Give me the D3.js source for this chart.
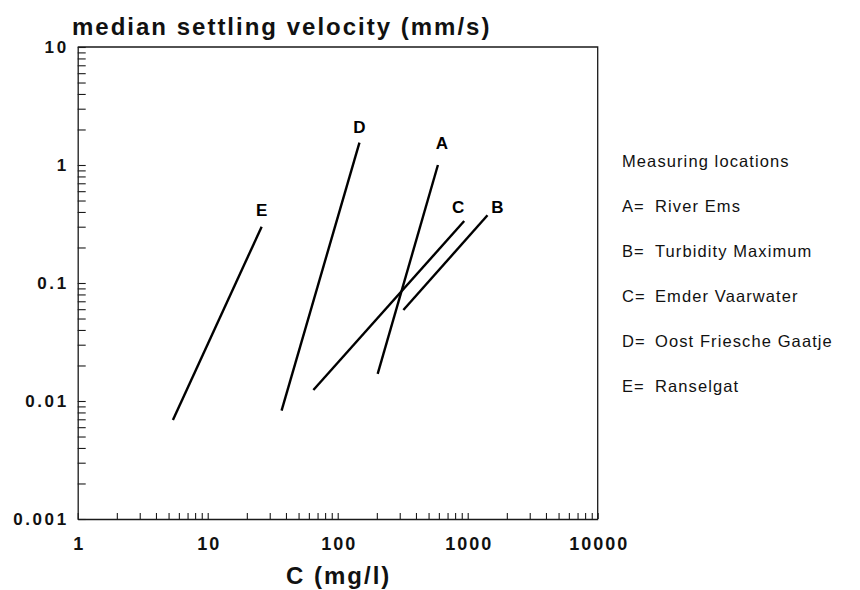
<!DOCTYPE html>
<html>
<head>
<meta charset="utf-8">
<script src="https://cdn.jsdelivr.net/npm/d3@7/dist/d3.min.js"></script>
<style>
  html, body { margin: 0; padding: 0; background: #fff; }
  svg { display: block; font-family: "Liberation Sans", Arial, Helvetica, sans-serif; }
</style>
</head>
<body>
<svg id="chart" width="860" height="590"></svg>
<script>
// Measuring locations and their fitted settling-velocity lines (end points)
const locations = ["A", "B", "C", "D", "E"];
const locationNames = ["River Ems", "Turbidity Maximum", "Emder Vaarwater", "Oost Friesche Gaatje", "Ranselgat"];
const concStart = [203, 320, 65, 37, 5.4];      // C (mg/l) at lower end
const concEnd   = [590, 1420, 940, 147, 26];     // C (mg/l) at upper end
const velStart  = [0.017, 0.059, 0.0124, 0.0083, 0.0069]; // mm/s at lower end
const velEnd    = [1.0, 0.375, 0.335, 1.55, 0.30];         // mm/s at upper end

const xTickValues = [1, 10, 100, 1000, 10000];
const xTickLabels = ["1", "10", "100", "1000", "10000"];
const yTickValues = [0.001, 0.01, 0.1, 1, 10];
const yTickLabels = ["0.001", "0.01", "0.1", "1", "10"];

const titleText = "median settling velocity (mm/s)";
const xTitleText = "C (mg/l)";
const legendTitle = "Measuring locations";

// ---- layout ----
const svg = d3.select("#chart");
const plot = { left: 77.7, right: 597.7, top: 47, bottom: 519 };

const x = d3.scaleLog().domain([1, 10000]).range([plot.left, plot.right]);
const y = d3.scaleLog().domain([0.001, 10]).range([plot.bottom, plot.top]);

// minor + major tick positions for each decade
function logTicks(lo, hi) {
  const out = [];
  for (let e = Math.log10(lo); e < Math.log10(hi); e++) {
    for (let m = 1; m < 10; m++) out.push(m * Math.pow(10, e));
  }
  out.push(hi);
  return out;
}

const axisColor = "#1a1a1a";

// frame: top and right edges
svg.append("path")
  .attr("d", `M${plot.left},${plot.top}H${plot.right}V${plot.bottom}`)
  .attr("fill", "none")
  .attr("stroke", axisColor)
  .attr("stroke-width", 1.3);

// left axis, ticks pointing into the plot
const yLabelMap = new Map(yTickValues.map((v, i) => [v, yTickLabels[i]]));
const yAxis = d3.axisLeft(y)
  .tickValues(logTicks(0.001, 10).map(v => +v.toPrecision(6)))
  .tickSizeInner(-8)
  .tickSizeOuter(0)
  .tickPadding(9)
  .tickFormat(v => yLabelMap.get(+v.toPrecision(6)) || "");
const gy = svg.append("g")
  .attr("transform", `translate(${plot.left},0)`)
  .call(yAxis);

// bottom axis, ticks pointing into the plot
const xLabelMap = new Map(xTickValues.map((v, i) => [v, xTickLabels[i]]));
const xAxis = d3.axisBottom(x)
  .tickValues(logTicks(1, 10000).map(v => +v.toPrecision(6)))
  .tickSizeInner(-6)
  .tickSizeOuter(0)
  .tickPadding(18)
  .tickFormat(v => xLabelMap.get(+v.toPrecision(6)) || "");
const gx = svg.append("g")
  .attr("transform", `translate(0,${plot.bottom})`)
  .call(xAxis);

[gx, gy].forEach(g => {
  g.select(".domain").attr("stroke", axisColor).attr("stroke-width", 1.3);
  g.selectAll(".tick line").attr("stroke", axisColor).attr("stroke-width", 1.1);
  g.selectAll(".tick text")
    .attr("fill", "#111")
    .attr("font-family", "'Liberation Sans', Arial, sans-serif")
    .attr("font-weight", "bold");
});
gy.selectAll(".tick text").attr("font-size", 17).attr("letter-spacing", "2.6px");
gx.selectAll(".tick text").attr("font-size", 18).attr("letter-spacing", "2px").attr("dx", "1px");

// title
svg.append("text")
  .attr("x", 72).attr("y", 35)
  .attr("font-size", 24).attr("font-weight", "bold")
  .attr("letter-spacing", "2px")
  .attr("fill", "#111")
  .text(titleText);

// x axis title
svg.append("text")
  .attr("x", (plot.left + plot.right) / 2 + 1).attr("y", 584)
  .attr("text-anchor", "middle")
  .attr("font-size", 24).attr("font-weight", "bold")
  .attr("letter-spacing", "2px")
  .attr("fill", "#111")
  .text(xTitleText);

// regression lines
const series = locations.map((id, i) => ({
  id,
  name: locationNames[i],
  pts: [[concStart[i], velStart[i]], [concEnd[i], velEnd[i]]]
}));

const line = d3.line().x(d => x(d[0])).y(d => y(d[1]));

svg.append("g").selectAll("path")
  .data(series)
  .join("path")
  .attr("d", d => line(d.pts))
  .attr("fill", "none")
  .attr("stroke", "#000")
  .attr("stroke-width", 2.4)
  .attr("stroke-linecap", "butt");

// letter labels placed just beyond the upper end of each line
const labelOffset = { A: [4, -16], B: [10, -2], C: [-6, -8], D: [0, -10], E: [0, -11] };
svg.append("g").selectAll("text")
  .data(series)
  .join("text")
  .attr("x", d => x(d.pts[1][0]) + labelOffset[d.id][0])
  .attr("y", d => y(d.pts[1][1]) + labelOffset[d.id][1])
  .attr("text-anchor", "middle")
  .attr("font-size", 17).attr("font-weight", "bold")
  .attr("fill", "#000")
  .text(d => d.id);

// legend
const legend = svg.append("g").attr("font-size", 16.5).attr("fill", "#111");
legend.append("text")
  .attr("x", 622).attr("y", 167)
  .attr("letter-spacing", "1.1px")
  .text(legendTitle);

const rows = legend.selectAll("g.row")
  .data(series)
  .join("g")
  .attr("class", "row")
  .attr("transform", (d, i) => `translate(0,${212 + i * 45})`);
rows.append("text")
  .attr("x", 622)
  .attr("letter-spacing", "1px")
  .text(d => d.id + "=");
rows.append("text")
  .attr("x", 655)
  .attr("letter-spacing", "1.1px")
  .text(d => d.name);
</script>
</body>
</html>
